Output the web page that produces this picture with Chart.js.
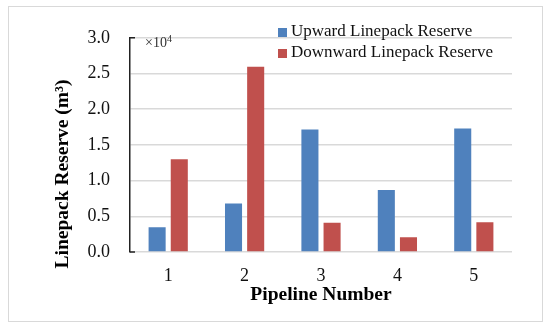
<!DOCTYPE html>
<html>
<head>
<meta charset="utf-8">
<script src="https://cdn.jsdelivr.net/npm/chart.js@4"></script>
<style>
  body { margin: 0; background: #fff; }
  #box { position: absolute; left: 8px; top: 6px; width: 535px; height: 316px; border: 1px solid #d9d9d9; box-sizing: border-box; }
  canvas { display: block; }
</style>
</head>
<body>
<div id="box"><canvas id="grafico" width="533" height="314"></canvas></div>
<script>
// dados do grafico
var pipelines = ['1', '2', '3', '4', '5'];
var upward = [3450, 6800, 17150, 8700, 17300];
var downward = [13000, 25950, 4100, 2050, 4150];
var serieLabels = ['Upward Linepack Reserve', 'Downward Linepack Reserve'];
var cores = ['#4f81bd', '#c0504d'];

var fonte = '"Liberation Serif", "Times New Roman", serif';

// titulos, legenda e o x10^4 desenhados por cima
var extras = {
  id: 'extras',
  afterDraw: function (chart) {
    var ctx = chart.ctx;
    var area = chart.chartArea;
    ctx.save();
    ctx.fillStyle = '#000';

    // marcas pretas no topo e na base do eixo
    ctx.strokeStyle = '#222';
    ctx.lineWidth = 1.5;
    ctx.beginPath();
    ctx.moveTo(area.left, area.top); ctx.lineTo(area.left + 5, area.top);
    ctx.moveTo(area.left, area.bottom); ctx.lineTo(area.left + 5, area.bottom);
    ctx.stroke();

    // titulo do eixo y
    ctx.font = 'bold 19.5px ' + fonte;
    ctx.textAlign = 'center';
    ctx.textBaseline = 'middle';
    ctx.save();
    ctx.translate(54, 167);
    ctx.rotate(-Math.PI / 2);
    ctx.fillText('Linepack Reserve (m\u00b3)', 0, 0);
    ctx.restore();

    // titulo do eixo x
    ctx.fillText('Pipeline Number', (area.left + area.right) / 2, 288);

    // x10^4
    ctx.font = '14px ' + fonte;
    ctx.textAlign = 'left';
    ctx.fillStyle = '#333';
    ctx.fillText('\u00d710', area.left + 15, area.top + 6);
    var w = ctx.measureText('\u00d710').width;
    ctx.font = '10px ' + fonte;
    ctx.fillText('4', area.left + 15 + w, area.top + 2);

    // legenda
    ctx.font = '17px ' + fonte;
    for (var i = 0; i < chart.data.datasets.length; i++) {
      var ds = chart.data.datasets[i];
      var y = 25 + i * 21;
      ctx.fillStyle = ds.backgroundColor;
      ctx.fillRect(269, y - 4, 9, 9);
      ctx.fillStyle = '#111';
      ctx.fillText(ds.label, 282, y);
    }
    ctx.restore();
  }
};

var ctx = document.getElementById('grafico').getContext('2d');
var meuGrafico = new Chart(ctx, {
  type: 'bar',
  data: {
    labels: pipelines,
    datasets: [{
      label: serieLabels[0],
      data: upward,
      backgroundColor: cores[0]
    }, {
      label: serieLabels[1],
      data: downward,
      backgroundColor: cores[1]
    }]
  },
  options: {
    responsive: false,
    animation: false,
    barPercentage: 0.77,
    categoryPercentage: 0.58,
    layout: { padding: { top: 28, right: 30, left: 0, bottom: 0 } },
    plugins: {
      legend: { display: false },
      tooltip: { enabled: false }
    },
    scales: {
      x: {
        grid: { display: false },
        border: { display: false },
        ticks: { color: '#111', padding: 5, font: { family: fonte, size: 18 } },
        afterFit: function (scale) { scale.height = 69; }
      },
      y: {
        min: 0,
        max: 30000,
        grid: { color: '#d9d9d9', lineWidth: 1.5, drawTicks: false },
        border: { display: true, color: '#222', width: 1.5 },
        ticks: {
          stepSize: 5000,
          padding: 20,
          color: '#111',
          font: { family: fonte, size: 18 },
          callback: function (v) { return (v / 10000).toFixed(1); }
        },
        afterFit: function (scale) { scale.width = 121; }
      }
    }
  },
  plugins: [extras]
});
</script>
</body>
</html>
